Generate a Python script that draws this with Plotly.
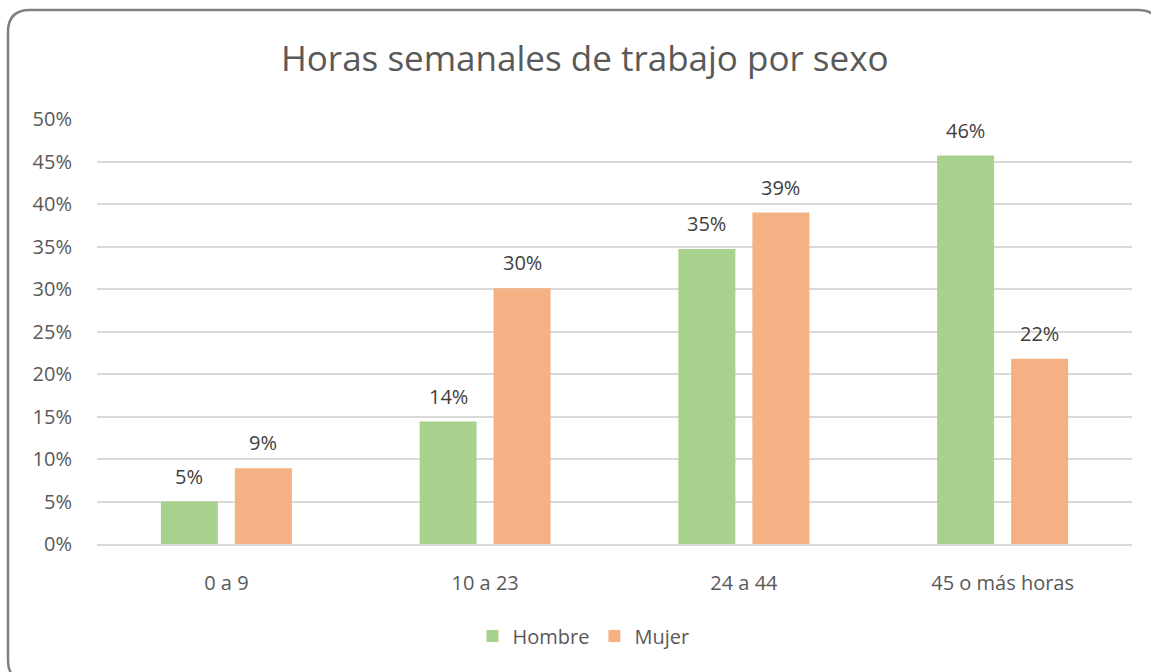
import plotly.graph_objects as go

categories = ["0 a 9", "10 a 23", "24 a 44", "45 o más horas"]
hombre = [5.0, 14.4, 34.7, 45.7]
mujer = [8.9, 30.1, 39.0, 21.8]
hombre_labels = ["5%", "14%", "35%", "46%"]
mujer_labels = ["9%", "30%", "39%", "22%"]
tick_vals = [0, 5, 10, 15, 20, 25, 30, 35, 40, 45, 50]
tick_text = ["0%", "5%", "10%", "15%", "20%", "25%", "30%", "35%", "40%", "45%", "50%"]

FONT = "Open Sans"
TXT = "#595959"
GREEN = "#a9d18e"
ORANGE = "#f4b183"

W, H = 1151, 672
L, R, T, B = 97, 19, 119, 128
pw, ph = W - L - R, H - T - B


def px2x(px):
    return (px - L) / pw


def py2y(py):
    return (H - B - py) / ph


fig = go.Figure()
fig.add_trace(go.Bar(name="Hombre", x=categories, y=hombre, marker_color=GREEN,
                     marker_line_width=0))
fig.add_trace(go.Bar(name="Mujer", x=categories, y=mujer, marker_color=ORANGE,
                     marker_line_width=0))

bargap = 0.428
bargroupgap = 0.23
slot = (1 - bargap) / 2
anns = []
for i, c in enumerate(categories):
    for val, lab, off in ((hombre[i], hombre_labels[i], -slot / 2), (mujer[i], mujer_labels[i], slot / 2)):
        anns.append(dict(x=i + off, y=val, xref="x", yref="y", text=lab, showarrow=False,
                         yanchor="bottom", yshift=10,
                         font=dict(family=FONT, size=20, color="#404040")))

anns.append(dict(x=px2x(585), y=py2y(58), xref="paper", yref="paper",
                 text="Horas semanales de trabajo por sexo",
                 showarrow=False, xanchor="center", yanchor="middle",
                 font=dict(family=FONT, size=35, color=TXT)))

x0, x1 = px2x(8), px2x(1160)
y0, y1 = py2y(10), py2y(682)
rx, ry = 22 / pw, 22 / ph
path = (f"M {x0+rx},{y0} L {x1-rx},{y0} Q {x1},{y0} {x1},{y0-ry} "
        f"L {x1},{y1+ry} Q {x1},{y1} {x1-rx},{y1} L {x0+rx},{y1} Q {x0},{y1} {x0},{y1+ry} "
        f"L {x0},{y0-ry} Q {x0},{y0} {x0+rx},{y0} Z")

fig.update_layout(
    width=W, height=H,
    margin=dict(l=L, r=R, t=T, b=B),
    paper_bgcolor="white", plot_bgcolor="white",
    barmode="group", bargap=bargap, bargroupgap=bargroupgap,
    font=dict(family=FONT, color=TXT),
    annotations=anns,
    shapes=[dict(type="path", path=path, xref="paper", yref="paper",
                 line=dict(color="#808080", width=2.5), layer="above")],
    legend=dict(orientation="h", x=0.47, xanchor="center", y=py2y(636), yanchor="middle",
                font=dict(family=FONT, size=20, color=TXT), itemwidth=30,
                traceorder="normal"),
    xaxis=dict(tickfont=dict(family=FONT, size=20, color=TXT), showgrid=False,
               showline=True, linecolor="#d9d9d9", linewidth=1.5, ticks="", ticklabelstandoff=20,
               fixedrange=True),
    yaxis=dict(range=[0, 50], tickmode="array", tickvals=tick_vals, ticktext=tick_text,
               tickfont=dict(family=FONT, size=20, color=TXT),
               showgrid=True, gridcolor="#d9d9d9", gridwidth=1.5, zeroline=False,
               ticklabelstandoff=24, fixedrange=True),
)

fig.write_html("out.html", config={"displayModeBar": False},
               post_script="document.body.style.margin='0';document.body.style.overflow='hidden';")
